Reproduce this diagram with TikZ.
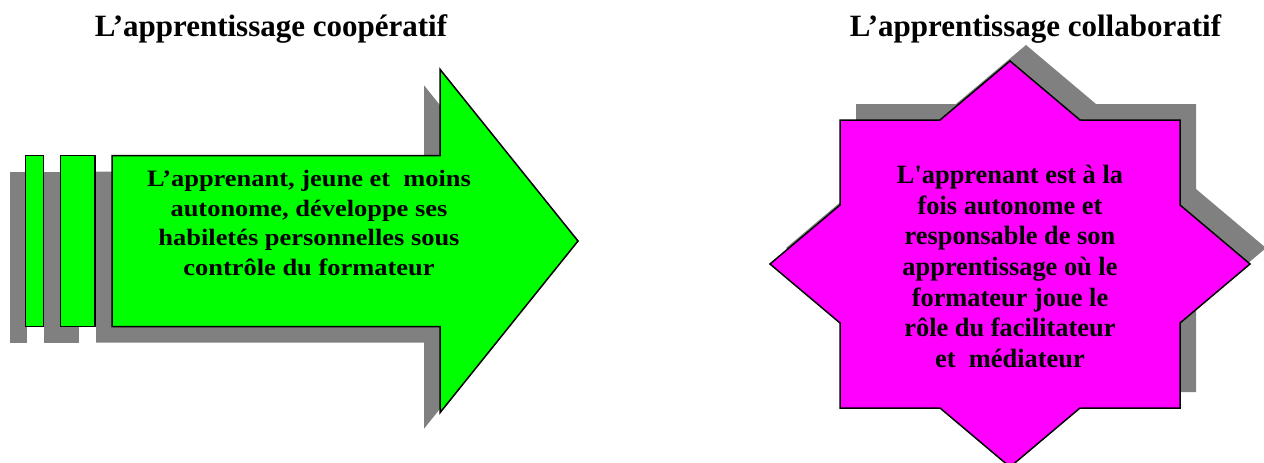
\documentclass[tikz,border=0pt]{standalone}
\usepackage{fontspec}
\setmainfont{Liberation Serif}
\newfontfamily\arrowfont[FakeStretch=1.125]{Liberation Serif}
\newfontfamily\starfont[Ligatures=TeXOff]{Liberation Serif}
\definecolor{shapegreen}{HTML}{00FF00}
\definecolor{shapemagenta}{HTML}{FF00FF}
\definecolor{shadowgray}{HTML}{808080}
\newcommand{\arrowbody}{(112,155.5) -- (440,155.5) -- (440,69.3) -- (578,241) -- (440,412.7) -- (440,326.7) -- (112,326.7) -- cycle}
\newcommand{\barone}{(25.7,155.5) rectangle (43.3,326.7)}
\newcommand{\bartwo}{(60.3,155.5) rectangle (95,326.7)}
\newcommand{\starbody}{(840,120) -- (940,120) -- (1010,61) -- (1080,120) -- (1180,120) -- (1180,205) -- (1250,264) -- (1180,323) -- (1180,408) -- (1080,408) -- (1010,467) -- (940,408) -- (840,408) -- (840,323) -- (770,264) -- (840,205) -- cycle}
\begin{document}
\begin{tikzpicture}[x=1pt,y=-1pt,
  shadowfill/.style={fill=shadowgray,draw=none},
  greenshape/.style={fill=shapegreen,draw=black,line width=1.5pt,line join=miter},
  magentashape/.style={fill=shapemagenta,draw=black,line width=1.5pt,line join=miter},
  titletext/.style={font=\bfseries\fontsize{31}{37}\selectfont,inner sep=0pt},
  arrowtext/.style={font=\arrowfont\bfseries\fontsize{23.5}{29.4}\selectfont,align=center,inner sep=0pt},
  startext/.style={font=\starfont\bfseries\fontsize{26.4}{30.6}\selectfont,align=center,inner sep=0pt}]
\useasboundingbox (0,0) rectangle (1264,463);
\clip (0,0) rectangle (1264,463);
% shadows
\begin{scope}[shift={(-16,16)}]
  \fill[shadowfill] \barone;
  \fill[shadowfill] \bartwo;
  \fill[shadowfill] \arrowbody;
\end{scope}
\begin{scope}[shift={(16,-16)}]
  \fill[shadowfill] \starbody;
\end{scope}
% shapes
\draw[greenshape] \barone;
\draw[greenshape] \bartwo;
\draw[greenshape] \arrowbody;
\draw[magentashape] \starbody;
% texts
\node[titletext,anchor=base] (title1) at (271,36.7) {L’apprentissage coopératif};
\node[titletext,anchor=base] (title2) at (1035.5,36.7) {L’apprentissage collaboratif};
\node[arrowtext,anchor=base] (arrowlabel) at (309,275) {L’apprenant, jeune et~ moins\\autonome, développe ses\\habiletés personnelles sous\\contrôle du formateur};
\node[startext,anchor=base] (starlabel) at (1010,367.3) {L'apprenant est à la\\fois autonome et\\responsable de son\\apprentissage où le\\formateur joue le\\rôle du facilitateur\\et~ médiateur};
\end{tikzpicture}
\end{document}
